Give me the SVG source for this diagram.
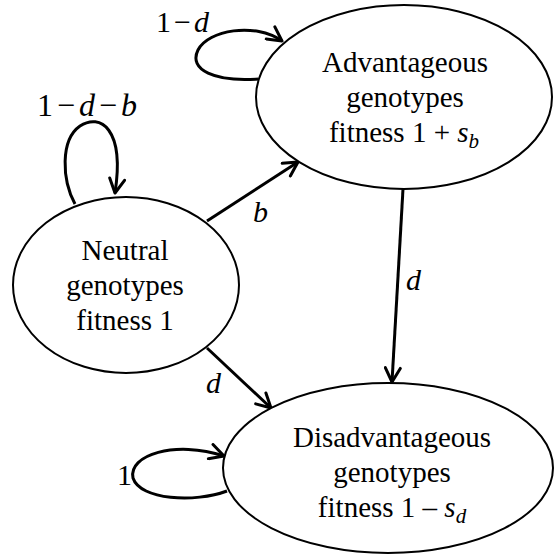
<svg xmlns="http://www.w3.org/2000/svg" width="554" height="558" viewBox="0 0 554 558">
<style>
.node{fill:#fff;stroke:#000;stroke-width:2}
.t{font-family:"Liberation Serif","Times New Roman",serif;font-size:29px;fill:#000;text-anchor:middle}
.lbl{font-family:"Liberation Serif","Times New Roman",serif;font-size:30px;fill:#000}
.big{font-size:32px}
.i{font-style:italic}
.sub{font-style:italic;font-size:21px}
.edge{fill:none;stroke:#000;stroke-width:3;marker-end:url(#arr)}
</style>
<defs>
<marker id="arr" viewBox="0 0 18 18" refX="16" refY="9" markerWidth="18" markerHeight="18" markerUnits="userSpaceOnUse" orient="auto">
<path d="M2,1.5 L16,9 L2,16.5" fill="none" stroke="#000" stroke-width="3" stroke-linecap="round" stroke-linejoin="round"/>
</marker>
</defs>
<rect width="554" height="558" fill="#fff"/>
<g id="connectors">
<path class="edge" d="M258,79 C215,82 188,70 198,50 C208,30 255,22 282,41"/>
<path class="edge" d="M75,204 C62,180 60,140 80,126 C100,113 125,128 115,193"/>
<path class="edge" d="M207,221 L298,162"/>
<path class="edge" d="M207,348 L271,408"/>
<path class="edge" d="M403,189 L392,382"/>
<path class="edge" d="M227,491 C195,503 140,500 133,478 C128,455 175,440 224,456"/>
</g>
<g id="advantageous">
<ellipse class="node" cx="404" cy="97" rx="148" ry="92"/>
<text class="t" x="405" y="72">Advantageous</text>
<text class="t" x="405" y="107">genotypes</text>
<text class="t" x="404" y="142">fitness 1 + <tspan class="i">s</tspan><tspan class="sub" dy="6">b</tspan></text>
</g>
<g id="neutral">
<ellipse class="node" cx="126" cy="285" rx="113" ry="88"/>
<text class="t" x="125" y="260">Neutral</text>
<text class="t" x="125" y="295">genotypes</text>
<text class="t" x="125" y="330">fitness 1</text>
</g>
<g id="disadvantageous">
<ellipse class="node" cx="388" cy="468" rx="165" ry="85"/>
<text class="t" x="392" y="447">Disadvantageous</text>
<text class="t" x="392" y="482">genotypes</text>
<text class="t" x="392" y="517">fitness 1 – <tspan class="i">s</tspan><tspan class="sub" dy="6">d</tspan></text>
</g>
<g id="labels">
<text class="lbl" x="156" y="32">1<tspan dx="3">−</tspan><tspan class="i" dx="3">d</tspan></text>
<text class="lbl big" x="37" y="116">1<tspan dx="4">−</tspan><tspan class="i" dx="4">d</tspan><tspan dx="4">−</tspan><tspan class="i" dx="4">b</tspan></text>
<text class="lbl i" x="253" y="222">b</text>
<text class="lbl i" x="406" y="290">d</text>
<text class="lbl i" x="206" y="393">d</text>
<text class="lbl" x="117" y="485">1</text>
</g>
</svg>
